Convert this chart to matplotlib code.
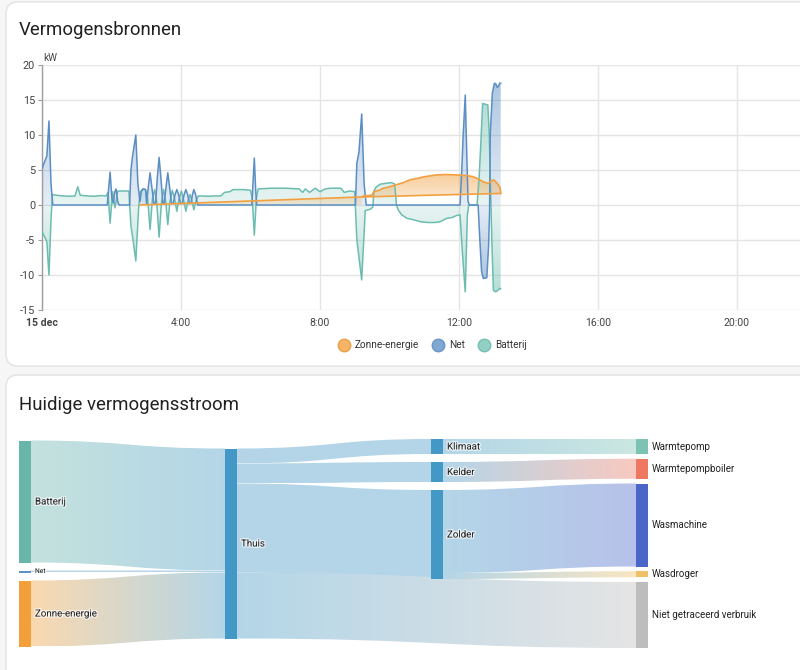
import numpy as np
import matplotlib
matplotlib.use("Agg")
import matplotlib.pyplot as plt
from matplotlib.path import Path
from matplotlib.patches import PathPatch, FancyBboxPatch, Rectangle
from matplotlib.lines import Line2D
import matplotlib.patheffects as pe
from matplotlib.colors import to_rgb

plt.rcParams['font.family'] = ['Roboto', 'DejaVu Sans']

# ------------------------------------------------------------------
# Data: power sources (hours since 15 dec 0:00, kW)
# ------------------------------------------------------------------
x_ticks = [0, 4, 8, 12, 16, 20]
x_tick_labels = ['15 dec', '4:00', '8:00', '12:00', '16:00', '20:00']
y_ticks = [-15, -10, -5, 0, 5, 10, 15, 20]

# solar: straight baseline segment and measured curve
ramp_t = [2.82, 9.20, 13.20]
ramp_v = [0.00, 1.15, 1.65]
solar_t = [9.20, 9.25, 9.40, 9.50, 9.55, 9.70, 9.82, 10.00, 10.20, 10.40,
           10.59, 10.80, 10.97, 11.15, 11.36, 11.60, 11.93, 12.05, 12.22, 12.40,
           12.50, 12.60, 12.70, 12.84, 12.93, 13.00, 13.08, 13.14, 13.18, 13.20]
solar_v = [1.15, 1.30, 1.35, 1.45, 1.90, 2.10, 2.40, 2.60, 2.90, 3.20,
           3.60, 3.80, 4.00, 4.15, 4.30, 4.35, 4.30, 4.25, 4.20, 4.05,
           3.85, 3.60, 3.30, 3.10, 3.40, 3.60, 3.20, 2.80, 2.50, 1.65]

net_t = [0.00, 0.10, 0.14, 0.20, 0.26, 0.31, 1.88, 1.92, 1.96, 2.01,
         2.05, 2.09, 2.13, 2.18, 2.22, 2.52, 2.56, 2.60, 2.70, 2.76,
         2.82, 2.86, 2.92, 2.98, 3.01, 3.06, 3.11, 3.16, 3.22, 3.27,
         3.32, 3.37, 3.42, 3.48, 3.52, 3.57, 3.62, 3.67, 3.73, 3.78,
         3.83, 3.88, 3.93, 3.99, 4.04, 4.09, 4.14, 4.19, 4.25, 4.29,
         4.33, 4.37, 4.42, 4.48, 6.04, 6.07, 6.11, 6.15, 6.18, 9.02,
         9.06, 9.12, 9.20, 9.27, 9.33, 12.03, 12.08, 12.12, 12.18, 12.22,
         12.26, 12.30, 12.55, 12.60, 12.65, 12.70, 12.80, 12.85, 12.88, 12.90,
         12.96, 13.02, 13.06, 13.10, 13.14, 13.17, 13.20]
net_v = [5.2, 6.5, 7.0, 12.0, 3.0, 0.0, 0.0, 2.5, 4.7, 1.0,
         0.3, 1.8, 2.3, 0.5, 0.0, 0.0, 5.0, 6.8, 10.0, 3.0,
         0.5, 2.0, 2.3, 2.2, 0.2, 2.6, 4.6, 2.6, 0.2, 0.3,
         4.0, 6.8, 4.0, 0.2, 0.3, 2.6, 4.6, 2.6, 0.2, 0.3,
         1.5, 2.2, 1.5, 0.2, 0.3, 1.5, 2.2, 1.5, 0.2, 0.3,
         1.5, 2.2, 1.5, 0.0, 0.0, 3.0, 6.7, 2.0, 0.0, 0.0,
         6.0, 7.5, 13.0, 3.0, 0.0, 0.0, 5.0, 10.0, 15.7, 8.0,
         0.5, 0.0, 0.0, -5.0, -9.5, -10.5, -10.4, -6.0, -1.0, 10.2,
         16.0, 17.4, 17.3, 16.8, 17.0, 17.4, 17.4]

bat_t = [0.00, 0.10, 0.14, 0.20, 0.26, 0.30, 0.40, 0.60, 0.80, 0.95,
         1.03, 1.10, 1.30, 1.50, 1.70, 1.85, 1.90, 1.96, 2.03, 2.10,
         2.18, 2.40, 2.50, 2.56, 2.62, 2.70, 2.78, 2.82, 2.90, 2.98,
         3.04, 3.11, 3.18, 3.24, 3.30, 3.37, 3.44, 3.50, 3.56, 3.62,
         3.68, 3.75, 3.82, 3.88, 3.94, 4.01, 4.08, 4.14, 4.20, 4.26,
         4.32, 4.37, 4.43, 4.50, 4.80, 5.00, 5.15, 5.25, 5.40, 5.50,
         5.80, 6.00, 6.05, 6.11, 6.17, 6.22, 6.60, 7.00, 7.40, 7.50,
         7.58, 7.70, 7.86, 8.00, 8.15, 8.30, 8.60, 8.70, 8.85, 9.00,
         9.06, 9.20, 9.28, 9.30, 9.45, 9.52, 9.55, 9.62, 9.75, 9.90,
         10.05, 10.15, 10.20, 10.25, 10.35, 10.50, 10.68, 10.90, 11.10, 11.30,
         11.45, 11.65, 11.80, 11.93, 12.03, 12.10, 12.18, 12.24, 12.28, 12.52,
         12.58, 12.63, 12.68, 12.83, 12.87, 12.90, 12.92, 12.95, 12.99, 13.05,
         13.12, 13.17, 13.20]
bat_v = [-3.8, -4.8, -5.3, -10.0, -2.0, 1.5, 1.4, 1.3, 1.25, 1.3,
         2.6, 1.4, 1.3, 1.25, 1.35, 1.3, 1.8, -2.6, 1.9, -0.4,
         2.0, 2.0, 2.0, -3.0, -5.0, -8.0, -0.5, 1.8, 2.3, 2.2,
         1.0, -3.5, 1.0, 2.2, 0.5, -4.6, 0.5, 2.2, 0.5, -2.8,
         0.5, 2.1, 0.8, -0.9, 0.8, 2.0, 0.6, -0.9, 0.6, 1.5,
         0.5, -0.7, 0.6, 1.3, 1.25, 1.3, 1.3, 1.8, 1.9, 2.2,
         2.2, 2.1, 1.0, -4.3, 1.0, 2.3, 2.4, 2.4, 2.3, 1.8,
         2.3, 1.8, 2.4, 1.9, 2.3, 2.4, 2.4, 1.8, 2.0, 1.9,
         -5.0, -10.7, -3.0, -0.8, -0.6, -0.3, 2.0, 2.6, 3.0, 3.1,
         3.2, 3.0, 0.0, -0.7, -1.4, -1.9, -2.1, -2.4, -2.5, -2.5,
         -2.4, -1.9, -1.8, -1.5, -1.4, -7.0, -12.4, -1.5, 0.0, 0.0,
         4.0, 9.0, 14.5, 14.3, 10.2, 4.0, 0.0, -6.0, -12.2, -12.4,
         -12.2, -11.9, -12.0]

legend_labels = ['Zonne-energie', 'Net', 'Batterij']

# ------------------------------------------------------------------
# Data: current power flow (W)
# ------------------------------------------------------------------
source_nodes = ['Batterij', 'Net', 'Zonne-energie']
source_values = [3660, 60, 1980]
hub_node = 'Thuis'
area_nodes = ['Klimaat', 'Kelder', 'Zolder']
device_nodes = ['Warmtepomp', 'Warmtepompboiler', 'Wasmachine', 'Wasdroger',
                'Niet getraceerd verbruik']
device_values = [450, 600, 2490, 180, 1980]
device_parent = ['Klimaat', 'Kelder', 'Zolder', 'Zolder', 'Thuis']

node_colors = {
    'Batterij': '#6ab5aa', 'Net': '#5b93c8', 'Zonne-energie': '#f3a03a',
    'Thuis': '#4398c5', 'Klimaat': '#4398c5', 'Kelder': '#4398c5', 'Zolder': '#4398c5',
    'Warmtepomp': '#7cc3b4', 'Warmtepompboiler': '#ef7862', 'Wasmachine': '#4a66c9',
    'Wasdroger': '#f1bf66', 'Niet getraceerd verbruik': '#bdbdbd',
}

ORANGE = '#f2a040'
BLUE = '#5b8ec4'
TEAL = '#6cbdb0'
TXT = '#212121'

# ------------------------------------------------------------------
W, H = 800, 670
fig = plt.figure(figsize=(W / 100, H / 100), dpi=100)
fig.patch.set_facecolor('#f6f6f6')

bg = fig.add_axes([0, 0, 1, 1])
bg.set_xlim(0, W)
bg.set_ylim(H, 0)
bg.axis('off')

for (y0, y1) in [(2, 366), (375, 700)]:
    bg.add_patch(FancyBboxPatch((6, y0), 850, y1 - y0,
                                boxstyle='round,pad=0,rounding_size=12',
                                fc='white', ec='#e2e2e2', lw=1, zorder=0))

bg.text(19, 30, 'Vermogensbronnen', fontsize=13.4, color=TXT, va='center', ha='left')
bg.text(19, 405, 'Huidige vermogensstroom', fontsize=13.4, color=TXT, va='center', ha='left')

# ------------------------------------------------------------------
# Time series chart
# ------------------------------------------------------------------
X0, Y_TOP, Y_BOT = 42, 65, 310
PX_PER_H = 34.75
x_max = (W - X0) / PX_PER_H
ax = fig.add_axes([X0 / W, 1 - Y_BOT / H, (W - X0) / W, (Y_BOT - Y_TOP) / H])
ax.set_facecolor('none')


def grad_image(ax, clip_patch, x_lo, x_hi, extreme, color, a0=0.16, a1=0.5, z=1):
    rgb = np.array(to_rgb(color))
    n = 256
    if extreme >= 0:
        alphas = np.linspace(a0, a1, n)
        ext = [x_lo, x_hi, 0, extreme]
    else:
        alphas = np.linspace(a1, a0, n)
        ext = [x_lo, x_hi, extreme, 0]
    img = np.zeros((n, 1, 4))
    img[:, 0, :3] = rgb
    img[:, 0, 3] = alphas
    im = ax.imshow(img, extent=ext, origin='lower', aspect='auto',
                   interpolation='bilinear', zorder=z)
    im.set_clip_path(clip_patch)


def grad_fill(ax, t, v, color, z=1):
    t = np.asarray(t, float)
    v = np.asarray(v, float)
    for sign in (1, -1):
        where = v >= 0 if sign > 0 else v <= 0
        coll = ax.fill_between(t, 0, v, where=where, interpolate=True,
                               color='none', lw=0)
        paths = coll.get_paths()
        coll.remove()
        if not paths:
            continue
        path = Path.make_compound_path(*paths)
        patch = PathPatch(path, fc='none', ec='none', transform=ax.transData)
        ax.add_patch(patch)
        extreme = v.max() if sign > 0 else v.min()
        if extreme == 0:
            continue
        grad_image(ax, patch, t.min(), t.max(), extreme, color, z=z)


# battery and grid areas
grad_fill(ax, bat_t, bat_v, TEAL, z=1)
grad_fill(ax, net_t, net_v, BLUE, z=1.1)

# solar areas: below the early straight segment, and between segment and curve
rt = np.asarray(ramp_t)
rv = np.asarray(ramp_v)
solar_top = max(solar_v)
early = np.column_stack([np.r_[rt[:2], rt[1]], np.r_[rv[:2], 0.0]])
late = np.column_stack([np.r_[solar_t, rt[:0:-1]], np.r_[solar_v, rv[:0:-1]]])
for poly in (early, late):
    patch = PathPatch(Path(np.vstack([poly, poly[:1]]), closed=True),
                      fc='none', ec='none', transform=ax.transData)
    ax.add_patch(patch)
    grad_image(ax, patch, poly[:, 0].min(), poly[:, 0].max(), solar_top, ORANGE,
               a0=0.18, a1=0.52, z=1.2)

ax.plot(bat_t, bat_v, color=TEAL, lw=1.1, zorder=3)
ax.plot(net_t, net_v, color=BLUE, lw=1.1, zorder=4)
ax.plot(ramp_t, ramp_v, color=ORANGE, lw=1.2, zorder=5)
ax.plot(solar_t, solar_v, color=ORANGE, lw=1.2, zorder=5)

ax.set_xlim(0, x_max)
ax.set_ylim(-15, 20)
ax.set_yticks(y_ticks)
ax.set_yticklabels([str(v) for v in y_ticks])
ax.set_xticks(x_ticks)
ax.set_xticklabels(x_tick_labels)
ax.get_xticklabels()[0].set_fontweight('bold')
ax.get_xticklabels()[0].set_color(TXT)
ax.grid(True, color='#e4e4e4', lw=1, zorder=0)
ax.set_axisbelow(True)
for s in ['top', 'right', 'bottom']:
    ax.spines[s].set_visible(False)
ax.spines['left'].set_color('#9e9e9e')
ax.spines['left'].set_linewidth(1)
ax.tick_params(axis='y', length=3, color='#9e9e9e', labelsize=7.8,
               labelcolor='#444444', pad=2)
ax.tick_params(axis='x', length=0, labelsize=7.6, labelcolor='#444444', pad=6)

bg.text(43, 58, 'kW', fontsize=7.2, color='#444444', ha='left', va='center')

handles = [Line2D([], [], marker='o', linestyle='none', markersize=9,
                  markerfacecolor=fc, markeredgecolor=ec, markeredgewidth=1)
           for fc, ec in [('#f6b466', '#eba04c'), ('#80a8d3', '#6a95c6'),
                          ('#92cfc4', '#74c0b3')]]
fig.legend(handles, legend_labels, loc='center', bbox_to_anchor=(430 / W, 1 - 345 / H),
           ncol=3, frameon=False, fontsize=7.2, handletextpad=0.1,
           columnspacing=0.9, labelcolor='#333333')

# ------------------------------------------------------------------
# Sankey (pixel layout in bg axes)
# ------------------------------------------------------------------
K = 1 / 30.0           # px per W
CENTER, SPAN, MAXGAP = 543.5, 209, 8
COL_X = [19, 225, 431, 636]
NW = 12


def light(c, a=0.4):
    return np.array(to_rgb(c)) * a + (1 - a)


def stack(values, top=None):
    tot = sum(values) * K
    n = len(values)
    gap = min(MAXGAP, (SPAN - tot) / (n - 1)) if n > 1 else 0
    y = CENTER - (tot + gap * (n - 1)) / 2 if top is None else top
    out = []
    for v in values:
        out.append([y, y + v * K])
        y += v * K + gap
    return out


hub_value = sum(source_values)
area_values = [sum(v for v, p in zip(device_values, device_parent) if p == a)
               for a in area_nodes]

pos = {}
for name, span in zip(source_nodes, stack(source_values)):
    pos[name] = (0, span)
pos[hub_node] = (1, stack([hub_value])[0])
for name, span in zip(device_nodes, stack(device_values)):
    pos[name] = (3, span)
for name, span in zip(area_nodes, stack(area_values, top=CENTER - SPAN / 2)):
    pos[name] = (2, span)

links = [(s, hub_node, v) for s, v in zip(source_nodes, source_values)]
for a, v in zip(area_nodes, area_values):
    links.append((hub_node, a, v))
links += [(p, d, v) for d, v, p in zip(device_nodes, device_values, device_parent)
          if p == hub_node]
links += [(p, d, v) for d, v, p in zip(device_nodes, device_values, device_parent)
          if p != hub_node]

out_off = {n: pos[n][1][0] for n in pos}
in_off = {n: pos[n][1][0] for n in pos}


def ribbon(x0, y0a, y0b, x1, y1a, y1b, c0, c1):
    xm = (x0 + x1) / 2
    verts = [(x0, y0a), (xm, y0a), (xm, y1a), (x1, y1a), (x1, y1b),
             (xm, y1b), (xm, y0b), (x0, y0b), (x0, y0a)]
    codes = [Path.MOVETO, Path.CURVE4, Path.CURVE4, Path.CURVE4, Path.LINETO,
             Path.CURVE4, Path.CURVE4, Path.CURVE4, Path.CLOSEPOLY]
    patch = PathPatch(Path(verts, codes), fc='none', ec='none',
                      transform=bg.transData)
    bg.add_patch(patch)
    n = 256
    f = np.linspace(0, 1, n)[:, None]
    cols = (1 - f) * c0 + f * c1
    img = cols[None, :, :]
    im = bg.imshow(img, extent=[x0, x1, max(y0b, y1b), min(y0a, y1a)],
                   aspect='auto', interpolation='bilinear', zorder=1)
    im.set_clip_path(patch)


for s, t, v in links:
    h = v * K
    cs, ct = pos[s][0], pos[t][0]
    y0a = out_off[s]
    out_off[s] += h
    y1a = in_off[t]
    in_off[t] += h
    ribbon(COL_X[cs] + NW, y0a, y0a + h, COL_X[ct], y1a, y1a + h,
           light(node_colors[s]), light(node_colors[t]))

halo = [pe.withStroke(linewidth=1.8, foreground='white', alpha=0.7)]
for name, (col, (ya, yb)) in pos.items():
    bg.add_patch(Rectangle((COL_X[col], ya), NW, yb - ya, fc=node_colors[name],
                           ec='none', zorder=3))
    fs = 4.8 if (yb - ya) < 4 else 7.0
    bg.text(COL_X[col] + NW + 4, (ya + yb) / 2, name, fontsize=fs, color=TXT,
            ha='left', va='center', zorder=4,
            path_effects=None if col == 3 else halo)

bg.set_xlim(0, W)
bg.set_ylim(H, 0)

fig.savefig('out.png', dpi=100, facecolor=fig.get_facecolor())
